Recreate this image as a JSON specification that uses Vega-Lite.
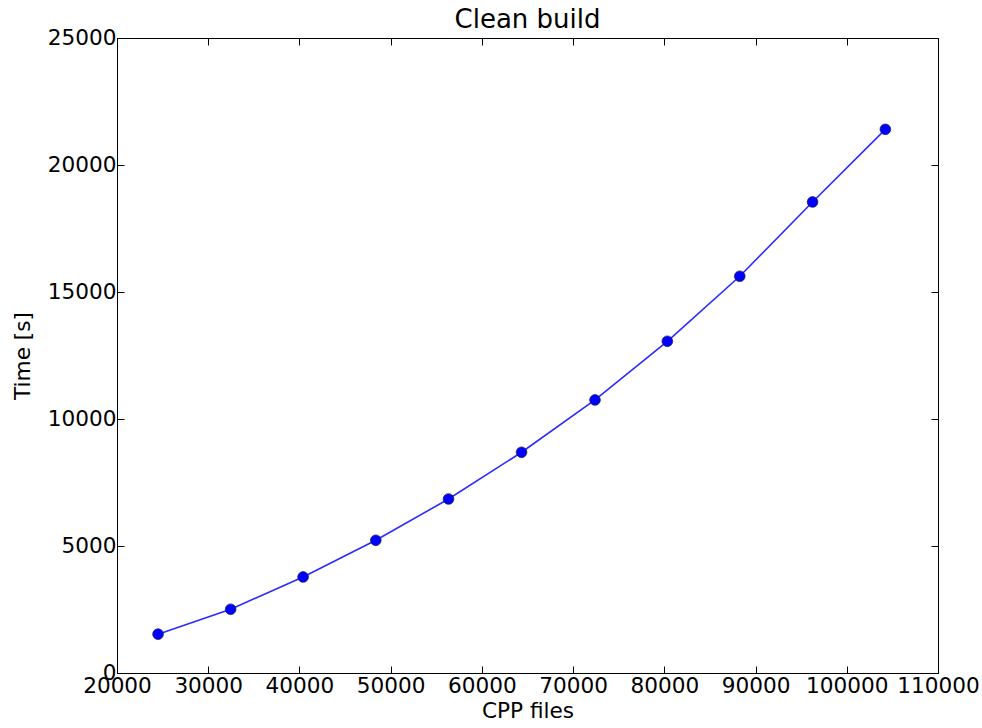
{
  "$schema": "https://vega.github.io/schema/vega-lite/v6.json",
  "autosize": "none",
  "width": 821,
  "height": 635,
  "padding": {"left": 117, "top": 38, "right": 44, "bottom": 55},
  "background": "white",
  "title": {"text": "Clean build", "font": "DejaVu Sans", "fontSize": 26, "fontWeight": "normal", "color": "black", "offset": -6},
  "config": {
    "view": {"stroke": "black", "strokeWidth": 1},
    "axis": {
      "grid": false,
      "domainColor": "black",
      "tickColor": "black",
      "labelColor": "black",
      "titleColor": "black",
      "labelFont": "DejaVu Sans",
      "titleFont": "DejaVu Sans",
      "labelFontSize": 21.6,
      "titleFontSize": 21.6,
      "titleFontWeight": "normal",
      "tickSize": -7,
      "labelPadding": 8
    }
  },
  "data": {"values": [
    {"files": 24500, "time": 1530},
    {"files": 32460, "time": 2510},
    {"files": 40400, "time": 3780},
    {"files": 48370, "time": 5225},
    {"files": 56340, "time": 6850},
    {"files": 64350, "time": 8690},
    {"files": 72400, "time": 10750},
    {"files": 80330, "time": 13060},
    {"files": 88270, "time": 15620},
    {"files": 96250, "time": 18545},
    {"files": 104230, "time": 21405}
  ]},
  "layer": [
    {
      "mark": {"type": "line", "color": "#2b2bff", "strokeWidth": 1.6},
      "encoding": {
        "x": {"field": "files", "type": "quantitative", "scale": {"domain": [20000, 110000], "nice": false, "zero": false},
              "axis": {"orient": "bottom", "title": "CPP files", "values": [20000,30000,40000,50000,60000,70000,80000,90000,100000,110000], "format": "d", "labelPadding": 9, "titlePadding": 4, "labelFlush": false, "labelOverlap": false}},
        "y": {"field": "time", "type": "quantitative", "scale": {"domain": [0, 25000], "nice": false},
              "axis": {"orient": "left", "title": "Time [s]", "values": [0,5000,10000,15000,20000,25000], "format": "d", "titlePadding": 13, "labelFlush": false}}
      }
    },
    {
      "mark": {"type": "point", "filled": true, "fill": "#0000ff", "stroke": "#1a1a40", "strokeWidth": 0.7, "opacity": 1, "size": 115},
      "encoding": {
        "x": {"field": "files", "type": "quantitative",
              "axis": {"orient": "top", "title": null, "labels": false, "domain": false, "values": [20000,30000,40000,50000,60000,70000,80000,90000,100000,110000]}},
        "y": {"field": "time", "type": "quantitative",
              "axis": {"orient": "right", "title": null, "labels": false, "domain": false, "values": [0,5000,10000,15000,20000,25000]}}
      }
    }
  ],
  "resolve": {"axis": {"x": "independent", "y": "independent"}}
}
